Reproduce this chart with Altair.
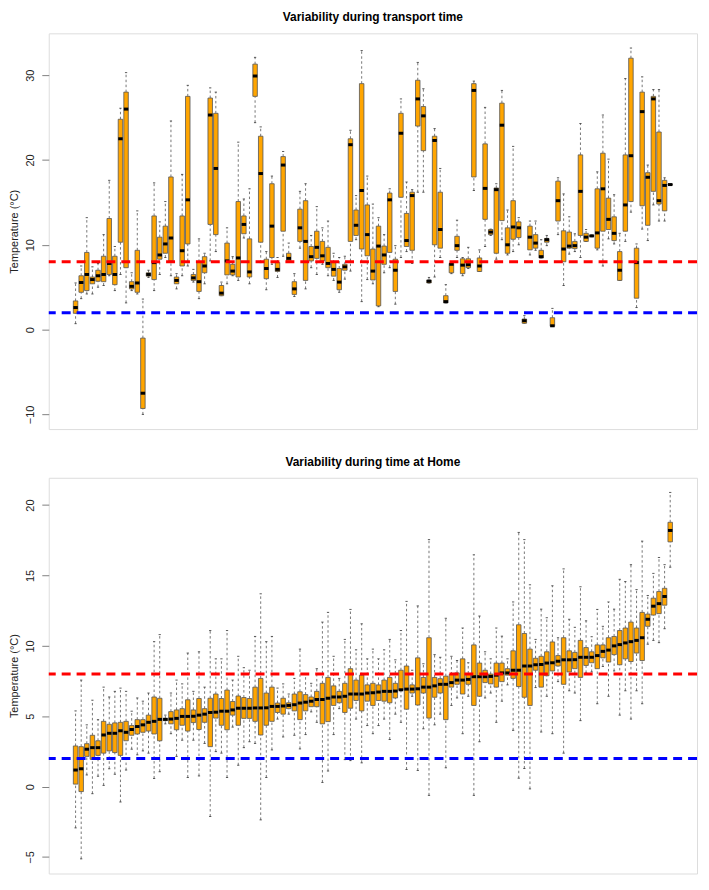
import altair as alt
import pandas as pd

# ---------------- Panel 1: transport time (107 boxes) ----------------
t_lo = [0.7, 3.65, 4.2, 4.2, 5.0, 5.2, 6.35, 4.6, 6.5, 3.15, 4.6, 4.2, -10.0, 6.15, 4.6, 6.5, 8.5, 6.35, 4.8, 6.35,
        7.5, 5.6, 3.65, 5.4, 8.1, 9.2, 4.0, 5.4, 6.35, 5.8, 10.8, 5.4, 24.4, 7.9, 4.7, 7.7, 6.15, 8.65, 8.0, 3.9,
        9.6, 4.8, 7.3, 6.5, 7.7, 6.35, 5.8, 4.4, 5.95, 6.9, 10.6, 3.3, 5.9, 5.4, 2.7, 6.7, 7.3, 3.0, 8.5, 9.2,
        7.8, 16.2, 16.2, 5.5, 6.2, 8.5, 3.15, 6.6, 8.5, 6.35, 7.2, 16.4, 6.85, 9.8, 11.1, 8.3, 10.6, 8.8, 9.2, 10.0,
        0.75, 8.8, 9.35, 8.45, 9.9, 0.4, 11.2, 5.2, 8.9, 9.2, 8.5, 10.4, 10.95, 9.4, 7.5, 10.7, 10.1, 5.8, 10.4, 13.85,
        2.6, 11.85, 10.5, 14.7, 12.8, 12.8, 17.1]
t_q1 = [1.92, 4.4, 4.6, 5.4, 5.7, 5.65, 6.5, 5.3, 10.3, 7.3, 4.8, 4.4, -9.3, 6.3, 5.9, 8.3, 9.0, 8.1, 5.4, 7.5,
        10.1, 5.8, 4.5, 6.7, 12.4, 11.2, 4.0, 6.45, 6.45, 6.2, 11.3, 6.2, 27.5, 10.3, 6.0, 8.5, 6.85, 11.6, 8.1, 4.15,
        10.4, 5.8, 8.1, 8.4, 8.1, 7.3, 6.3, 4.7, 7.0, 10.4, 11.1, 9.5, 8.7, 5.85, 2.8, 7.7, 9.1, 4.5, 15.6, 9.8,
        9.35, 24.0, 21.1, 5.5, 10.0, 9.6, 3.15, 6.7, 9.35, 6.6, 7.3, 18.0, 6.85, 13.0, 11.2, 9.0, 12.85, 9.0, 10.65, 10.85,
        0.75, 9.4, 9.6, 8.45, 10.3, 0.4, 12.8, 8.0, 9.6, 9.55, 11.1, 10.4, 11.0, 9.6, 11.6, 11.8, 10.5, 5.8, 11.6, 15.1,
        3.7, 14.6, 12.3, 16.3, 14.8, 14.0, 17.05]
t_med = [2.6, 5.55, 6.5, 5.9, 6.35, 6.5, 7.8, 6.5, 22.5, 26.0, 5.1, 5.5, -7.5, 6.5, 7.9, 8.8, 10.1, 10.8, 5.8, 9.3,
         15.3, 6.1, 5.65, 7.5, 25.3, 19.0, 4.3, 8.1, 6.9, 8.45, 12.4, 6.8, 29.9, 18.4, 7.2, 12.2, 7.1, 19.4, 8.4, 4.8,
         12.0, 10.4, 8.6, 9.7, 8.7, 7.8, 7.1, 5.6, 7.4, 21.8, 12.3, 16.4, 11.2, 6.9, 9.85, 8.8, 15.3, 7.0, 23.15, 10.5,
         15.8, 27.2, 25.2, 5.7, 22.3, 11.8, 3.3, 7.7, 9.9, 7.6, 7.65, 28.2, 7.5, 16.65, 11.5, 16.5, 24.1, 10.0, 12.1, 12.0,
         1.05, 10.9, 10.2, 8.6, 10.6, 0.45, 15.2, 9.5, 9.85, 9.9, 16.3, 10.9, 11.05, 11.4, 16.6, 13.0, 11.35, 7.0, 14.7, 20.5,
         7.9, 25.7, 17.96, 27.2, 15.2, 17.0, 17.1]
t_q3 = [3.38, 6.35, 9.1, 6.2, 7.0, 8.65, 13.1, 8.65, 24.8, 28.0, 5.65, 9.35, -1.0, 6.7, 13.4, 10.9, 12.2, 18.0, 6.2, 13.4,
        27.5, 6.5, 8.0, 8.6, 27.3, 25.5, 5.2, 10.2, 7.7, 15.1, 13.4, 10.7, 31.3, 22.8, 8.3, 17.2, 7.9, 20.4, 9.0, 5.65,
        14.2, 15.2, 9.8, 11.6, 10.4, 9.7, 7.9, 7.2, 7.7, 22.5, 14.1, 29.0, 14.7, 9.5, 12.2, 9.85, 16.1, 8.3, 25.5, 13.7,
        16.2, 29.4, 26.3, 5.85, 22.8, 16.2, 4.0, 7.8, 11.0, 8.35, 8.35, 29.0, 8.45, 21.9, 11.8, 16.7, 26.7, 12.0, 15.2, 12.7,
        1.25, 12.2, 11.2, 9.35, 10.75, 1.4, 17.5, 11.65, 11.5, 10.4, 20.6, 11.35, 11.1, 16.6, 20.8, 15.5, 13.3, 9.2, 20.6, 32.0,
        9.6, 28.0, 18.5, 27.5, 23.3, 17.6, 17.15]
t_hi = [5.5, 7.5, 13.2, 7.4, 7.8, 11.2, 17.6, 9.8, 26.1, 30.3, 6.7, 14.0, 3.6, 7.0, 17.3, 12.7, 15.1, 24.6, 6.6, 18.3,
        28.8, 7.1, 10.7, 9.0, 28.5, 28.0, 5.6, 12.0, 8.6, 22.1, 15.4, 16.6, 32.1, 23.9, 9.2, 18.1, 8.5, 21.0, 10.2, 6.6,
        16.3, 17.2, 11.1, 14.5, 12.0, 12.8, 9.0, 8.5, 8.65, 23.5, 15.8, 32.9, 18.1, 14.8, 13.2, 11.2, 16.6, 9.9, 27.2, 17.4,
        16.5, 31.5, 28.4, 6.15, 23.7, 19.0, 5.3, 7.9, 12.9, 8.5, 9.7, 29.3, 9.4, 26.2, 11.85, 17.2, 28.2, 14.1, 21.6, 13.2,
        1.65, 12.8, 12.8, 10.6, 11.1, 2.5, 17.9, 16.0, 13.3, 11.3, 24.3, 11.8, 11.15, 18.6, 25.3, 20.1, 15.9, 11.35, 29.6, 33.2,
        10.1, 29.8, 19.4, 28.3, 28.3, 17.9, 17.1]

# ---------------- Panel 2: time at home (107 boxes, sorted by median) ----------------
h_lo = [-2.93, -5.13, 0.83, -0.5, 0.74, 0.09, 1.27, 0.88, -1.09, 1.18, 2.66, 2.26, 2.54, 2.38, 0.58, 1.06, 4.46, 3.76, 2.15, 3.3,
        0.65, 3.3, 0.76, 3.07, -2.12, 2.49, 2.38, 0.65, 4.23, 1.52, 2.77, 3.19, 3.07, -2.36, 0.65, 2.61, 4.8, 3.53, 5.15, 3.65,
        2.68, 3.7, 5.31, 4.57, 0.3, 1.11, 3.7, 5.54, 1.92, 1.85, 4.8, 1.69, 4.34, 3.76, 4.34, 4.8, 3.35, 5.15, 4.57, 1.22,
        6.42, 1.15, 4.11, -0.62, 4.39, 5.15, 1.34, 5.77, 6.3, 3.76, 6.42, -0.62, 3.19, 6.3, 6.65, 4.57, 6.07, 7.23, 4.0, 0.6,
        1.29, -0.16, 7.04, 3.88, 6.42, 3.76, 7.46, 2.38, 6.81, 6.65, 4.69, 8.08, 8.15, 5.89, 8.54, 6.42, 8.22, 5.08, 6.81, 4.8,
        6.81, 5.89, 10.12, 10.39, 10.23, 11.22, 15.59]
h_q1 = [0.18, -0.35, 2.15, 1.94, 2.22, 2.38, 2.54, 2.42, 2.22, 3.26, 3.65, 3.74, 3.86, 3.95, 3.74, 3.26, 4.69, 4.46, 4.04, 4.36,
        3.95, 4.55, 4.06, 4.57, 2.84, 4.87, 4.36, 4.04, 5.08, 4.36, 4.85, 4.85, 4.64, 3.67, 4.36, 4.64, 5.27, 5.15, 5.54, 5.38,
        4.76, 5.38, 5.68, 5.68, 4.46, 4.62, 5.77, 5.96, 5.27, 5.57, 6.12, 5.38, 6.07, 5.77, 6.12, 6.07, 5.96, 6.3, 6.85, 5.5,
        6.65, 5.8, 6.65, 4.87, 6.35, 6.65, 4.76, 7.07, 7.27, 6.58, 7.27, 5.77, 6.42, 7.39, 7.3, 7.07, 7.46, 7.92, 7.69, 7.11,
        6.35, 5.77, 8.27, 7.07, 7.88, 8.22, 8.57, 7.27, 8.15, 8.38, 7.76, 8.61, 8.8, 8.38, 9.15, 8.85, 9.38, 8.66, 9.08, 8.89,
        9.49, 8.96, 11.39, 12.19, 12.29, 12.89, 17.39]
h_med = [1.18, 1.27, 2.66, 2.77, 2.77, 3.67, 3.79, 3.79, 3.97, 3.86, 4.06, 4.27, 4.39, 4.57, 4.64, 4.78, 4.78, 4.8, 4.85, 4.99,
         4.99, 5.0, 5.08, 5.15, 5.27, 5.29, 5.36, 5.36, 5.45, 5.57, 5.57, 5.57, 5.59, 5.59, 5.6, 5.7, 5.7, 5.73, 5.77, 5.82,
         5.94, 6.0, 6.07, 6.19, 6.19, 6.28, 6.37, 6.37, 6.42, 6.58, 6.58, 6.58, 6.65, 6.67, 6.72, 6.77, 6.77, 6.79, 6.88, 6.93,
         6.93, 6.95, 7.07, 7.07, 7.16, 7.27, 7.27, 7.39, 7.57, 7.57, 7.62, 7.81, 7.81, 7.81, 7.83, 7.92, 8.08, 8.08, 8.27, 8.27,
         8.57, 8.57, 8.66, 8.68, 8.78, 8.8, 8.91, 9.01, 9.01, 9.02, 9.19, 9.19, 9.19, 9.31, 9.61, 9.7, 10.0, 10.09, 10.21, 10.3,
         10.39, 10.58, 11.89, 12.82, 13.0, 13.51, 18.2]
h_q3 = [2.89, 2.84, 3.05, 3.65, 3.26, 4.64, 4.43, 4.53, 4.57, 4.64, 4.34, 4.76, 4.76, 5.08, 6.37, 6.28, 4.85, 5.33, 5.45, 5.54,
        6.17, 5.45, 6.26, 5.54, 6.28, 6.58, 6.26, 6.86, 6.05, 6.44, 6.33, 6.26, 7.07, 7.69, 6.65, 7.07, 5.94, 6.28, 5.96, 6.58,
        6.74, 6.54, 6.37, 6.77, 7.34, 7.76, 7.16, 6.77, 7.34, 8.38, 7.57, 7.92, 7.23, 7.34, 7.23, 7.57, 7.76, 7.34, 8.27, 8.57,
        7.23, 9.15, 7.76, 10.58, 7.76, 7.67, 7.85, 7.97, 8.08, 9.08, 8.04, 10.07, 8.78, 8.27, 8.0, 8.78, 8.78, 8.38, 9.65, 11.5,
        10.88, 9.77, 9.12, 9.26, 9.58, 10.28, 9.31, 10.58, 9.65, 9.54, 10.39, 9.88, 9.58, 10.07, 10.07, 10.58, 10.67, 11.09, 11.27, 11.69,
        11.27, 12.38, 12.26, 13.39, 13.86, 14.09, 18.78]
h_hi = [5.38, 7.57, 4.39, 6.14, 4.76, 7.07, 6.37, 6.77, 7.0, 6.77, 5.36, 6.3, 6.07, 6.65, 10.3, 10.8, 5.08, 6.65, 7.57, 7.3,
        9.49, 6.77, 9.58, 7.07, 11.09, 9.08, 9.08, 11.09, 7.57, 9.26, 8.45, 8.27, 10.67, 13.7, 10.3, 10.67, 7.0, 7.3, 6.58, 7.69,
        9.77, 7.99, 7.34, 8.38, 11.69, 12.38, 9.26, 7.69, 10.46, 12.59, 9.72, 11.57, 9.08, 9.77, 9.08, 9.72, 10.46, 9.01, 11.09, 13.16,
        8.27, 12.84, 8.73, 17.55, 9.38, 9.19, 11.96, 9.26, 8.96, 11.27, 8.8, 16.47, 12.12, 9.58, 9.08, 11.27, 10.69, 9.08, 13.12, 18.06,
        17.55, 14.34, 10.46, 12.61, 12.0, 14.27, 10.58, 15.47, 11.89, 11.32, 14.2, 11.78, 10.65, 12.59, 11.39, 13.12, 12.61, 14.73, 14.57, 15.77,
        14.0, 17.44, 13.58, 15.15, 16.28, 15.77, 20.9]

TITLES = ["Variability during transport time", "Variability during time at Home"]
Y_TITLE = "Temperature (°C)"
REF_VALUES = [8, 2]
REF_COLORS = ["#FF0000", "#0000FF"]
TOP_TICKS = [-10, 0, 10, 20, 30]
BOT_TICKS = [-5, 0, 5, 10, 15, 20]

N = len(t_med)
W, H = 652, 398
FONT = "Liberation Sans"
XDOM = [0.5 - 0.04 * N, N + 0.5 + 0.04 * N]


def ylim(lo, hi):
    a, b = min(lo), max(hi)
    r = b - a
    return [a - 0.04 * r, b + 0.04 * r]


def panel(lo, q1, med, q3, hi, title, ticks):
    df = pd.DataFrame({"i": list(range(1, N + 1)), "lo": lo, "q1": q1, "med": med, "q3": q3, "hi": hi})
    base = alt.Chart(df).transform_calculate(
        xl="datum.i - 0.4", xr="datum.i + 0.4", sl="datum.i - 0.2", sr="datum.i + 0.2"
    )
    xs = alt.Scale(domain=XDOM, nice=False, zero=False)
    ys = alt.Scale(domain=ylim(lo, hi), nice=False, zero=False)
    yax = alt.Axis(title=Y_TITLE, values=ticks, grid=False, domain=False, tickSize=7,
                   tickColor="#808080", labelAngle=270, labelAlign="center", labelBaseline="bottom",
                   labelPadding=6, titlePadding=5, labelFont=FONT, labelFontSize=11, labelColor="#222",
                   titleFont=FONT, titleFontSize=11, titleFontWeight="normal", titleColor="#222")

    def Y(f):
        return alt.Y(f, type="quantitative", scale=ys, axis=yax)

    def X(f):
        return alt.X(f, type="quantitative", scale=xs, axis=None)

    whisk = dict(strokeDash=[2.5, 2.5], color="#555555", strokeWidth=0.8)
    w_up = base.mark_rule(**whisk).encode(x=X("i"), y=Y("q3"), y2="hi:Q")
    w_dn = base.mark_rule(**whisk).encode(x=X("i"), y=Y("lo"), y2="q1:Q")
    st = dict(color="#333333", strokeWidth=0.8)
    s_up = base.mark_rule(**st).encode(x=X("sl"), x2="sr:Q", y=Y("hi"))
    s_dn = base.mark_rule(**st).encode(x=X("sl"), x2="sr:Q", y=Y("lo"))
    box = base.mark_bar(fill="#FFA500", stroke="#555555", strokeWidth=0.8, cornerRadius=0).encode(
        x=X("xl"), x2="xr:Q", y=Y("q1"), y2="q3:Q")
    med_l = base.mark_rule(color="black", strokeWidth=3).encode(x=X("xl"), x2="xr:Q", y=Y("med"))
    refs = alt.Chart(pd.DataFrame({"v": REF_VALUES, "c": REF_COLORS})).mark_rule(
        strokeDash=[9, 6], strokeWidth=3).encode(y=Y("v"), color=alt.Color("c:N", scale=None))
    return alt.layer(w_up, w_dn, s_up, s_dn, box, med_l, refs).properties(
        width=W, height=H,
        title=alt.TitleParams(title, fontSize=12, fontWeight="bold", font=FONT, anchor="middle",
                              frame="group", offset=9, color="black"))


top = panel(t_lo, t_q1, t_med, t_q3, t_hi, TITLES[0], TOP_TICKS)
bot = panel(h_lo, h_q1, h_med, h_q3, h_hi, TITLES[1], BOT_TICKS)

chart = alt.vconcat(top, bot, spacing=25).properties(
    padding={"left": 0, "top": 0, "right": 2, "bottom": 0}
).configure_view(stroke="#808080", strokeWidth=1).configure(background="white")

chart.save("out.html", embed_options={"renderer": "svg", "actions": False})
